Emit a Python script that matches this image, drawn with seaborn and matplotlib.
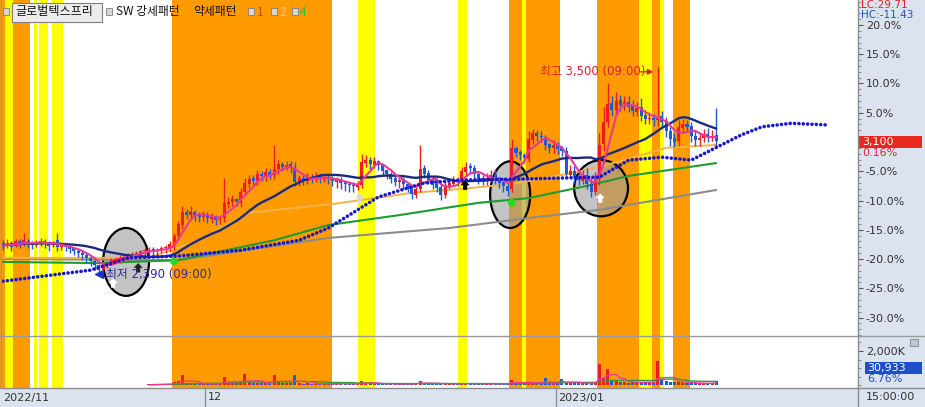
import numpy as np
import pandas as pd
import matplotlib
matplotlib.use("Agg")
import matplotlib.pyplot as plt
from matplotlib.patches import Ellipse, Rectangle
from matplotlib.lines import Line2D
from matplotlib.path import Path
from matplotlib.ticker import MultipleLocator
import seaborn as sns

# price in % against the 3,095 base line, volume in K shares
close = [
    -17.8, -17.2, -17.9, -17.0, -17.5, -16.8, -17.3, -17.6, -17.1, -16.9,
    -17.4, -17.7, -17.2, -17.9, -17.8, -18.0, -18.3, -18.6, -18.9, -19.3,
    -19.8, -20.4, -21.0, -21.8, -21.2, -20.6, -20.2, -20.0, -19.8, -19.6,
    -19.3, -19.1, -18.9, -18.7, -18.5, -18.4, -18.6, -18.5, -18.2, -18.0,
    -17.5, -16.0, -14.0, -12.0, -12.5, -11.8, -12.6, -12.8, -12.4, -13.0,
    -12.7, -13.3, -13.1, -10.5, -10.2, -9.8, -10.3, -8.5, -7.0, -6.3,
    -6.6, -5.5, -5.8, -5.2, -5.6, -4.6, -3.8, -4.2, -3.9, -4.5,
    -6.8, -6.2, -6.5, -6.0, -6.3, -5.9, -6.2, -6.0, -6.4, -6.7,
    -6.5, -7.0, -7.2, -7.4, -7.6, -7.3, -3.5, -3.0, -3.8, -3.3,
    -4.0, -4.9, -5.5, -6.3, -6.8, -6.5, -7.2, -7.8, -8.9, -8.0,
    -4.6, -5.4, -6.5, -7.3, -7.8, -9.0, -7.4, -7.0, -6.5, -6.8,
    -5.0, -4.2, -4.5, -5.5, -6.3, -6.6, -6.2, -5.6, -6.5, -7.0,
    -7.6, -8.3, -1.0, -1.8, -2.3, -2.8, 0.5, 1.5, 1.0, 0.8,
    -0.5, -1.0, -0.5, -1.2, -1.5, -5.5, -5.0, -6.0, -6.5, -5.8,
    -7.2, -8.5, -6.3, -0.5, 3.5, 6.5, 5.5, 7.0, 6.3, 6.8,
    6.0, 5.3, 5.8, 4.5, 4.0, 4.0, 3.8, 4.3, 3.5, 1.8,
    0.5, 0.0, 2.5, 3.0, 2.6, 1.0, 0.4, 0.6, 1.3, 0.9,
    1.1, 0.16,
]
open_ = [
    -17.3, -17.8, -17.3, -17.8, -17.0, -17.4, -16.9, -17.2, -17.6, -17.2,
    -16.9, -17.3, -17.6, -16.7, -17.9, -17.8, -18.0, -18.2, -18.6, -18.9,
    -19.3, -19.9, -20.4, -21.0, -21.9, -21.2, -20.6, -20.3, -20.0, -19.9,
    -19.6, -19.4, -19.1, -18.9, -18.7, -18.6, -18.3, -18.7, -18.5, -18.2,
    -18.1, -17.6, -16.1, -14.2, -12.0, -12.5, -11.9, -12.5, -12.9, -12.4,
    -13.1, -12.7, -13.4, -13.0, -10.6, -10.3, -9.7, -10.4, -8.6, -7.1,
    -6.2, -6.7, -5.4, -5.9, -5.1, -5.7, -4.7, -3.7, -4.3, -3.8,
    -4.4, -6.9, -6.1, -6.6, -5.9, -6.4, -5.8, -6.3, -6.0, -6.3,
    -6.8, -6.4, -6.9, -7.1, -7.3, -7.7, -7.4, -3.6, -3.0, -3.9,
    -3.2, -4.0, -4.8, -5.4, -6.2, -6.9, -6.4, -7.1, -7.7, -9.0,
    -8.1, -4.5, -5.3, -6.4, -7.2, -7.7, -9.1, -7.5, -7.1, -6.4,
    -6.9, -5.1, -4.1, -4.4, -5.4, -6.2, -6.7, -6.3, -5.5, -6.4,
    -6.9, -7.5, -8.0, -1.1, -1.7, -2.2, -2.9, 0.4, 1.6, 1.1,
    0.9, -0.4, -1.1, -0.4, -1.1, -1.6, -5.6, -4.9, -6.1, -6.6,
    -5.7, -7.1, -8.6, -6.4, -0.4, 3.4, 6.6, 5.4, 7.1, 6.2,
    6.9, 6.1, 5.2, 5.9, 4.6, 3.9, 4.1, 3.7, 4.4, 3.6,
    1.9, 0.6, 0.1, 2.4, 3.1, 2.7, 1.1, 0.3, 0.7, 1.4,
    0.8, 1.2,
]
high = [
    -16.8, -16.6, -17.0, -16.5, -16.6, -15.6, -16.5, -16.9, -16.8, -16.4,
    -16.5, -16.9, -16.9, -15.5, -17.5, -17.4, -17.7, -17.9, -18.3, -18.5,
    -19.0, -19.6, -20.0, -20.8, -20.9, -20.3, -19.9, -19.7, -19.4, -19.2,
    -19.0, -18.8, -18.6, -18.4, -18.1, -17.9, -18.0, -18.2, -17.8, -17.6,
    -17.0, -15.5, -13.5, -10.9, -11.5, -11.0, -11.6, -12.0, -11.8, -12.0,
    -12.2, -12.4, -12.6, -6.2, -9.4, -9.0, -9.5, -7.8, -6.2, -5.6,
    -5.7, -4.8, -5.0, -4.5, -4.7, -0.5, -3.1, -3.4, -3.2, -3.2,
    -3.5, -5.6, -5.6, -5.3, -5.4, -5.2, -5.3, -5.4, -5.5, -5.8,
    -5.9, -6.0, -6.5, -6.6, -6.8, -6.6, -2.0, -2.2, -2.6, -2.6,
    -3.1, -3.8, -4.6, -5.2, -5.8, -5.8, -5.9, -6.8, -7.4, -7.2,
    -0.5, -4.0, -4.8, -5.8, -6.6, -7.2, -6.6, -6.2, -5.8, -6.0,
    -4.2, -3.4, -3.6, -4.0, -5.1, -5.7, -5.3, -4.8, -4.7, -6.0,
    -6.5, -6.8, 0.5, -0.6, -1.4, -1.8, 1.8, 2.2, 2.0, 1.8,
    1.2, -0.2, 0.4, 0.0, -0.7, -0.9, -4.0, -4.1, -5.2, -4.8,
    -4.5, -6.2, -5.2, 1.5, 6.0, 10.0, 7.8, 8.5, 8.0, 7.8,
    7.8, 7.2, 6.8, 7.5, 5.4, 5.2, 4.8, 12.9, 5.3, 4.2,
    2.6, 1.5, 3.8, 4.0, 3.8, 3.4, 1.9, 1.5, 2.2, 2.4,
    2.0, 5.8,
]
low = [
    -18.5, -18.1, -18.6, -17.9, -18.2, -17.8, -18.1, -18.3, -18.0, -17.8,
    -18.1, -18.6, -18.0, -18.6, -18.5, -18.7, -18.9, -19.3, -19.7, -20.2,
    -20.6, -21.2, -21.8, -22.8, -22.1, -21.5, -21.1, -20.7, -20.6, -20.4,
    -20.1, -19.9, -19.8, -19.5, -19.3, -19.4, -19.5, -19.4, -19.0, -18.9,
    -18.8, -18.4, -16.6, -14.8, -13.2, -13.3, -13.5, -13.6, -13.5, -13.8,
    -13.8, -14.2, -14.0, -13.6, -11.2, -10.9, -11.0, -11.1, -9.1, -7.8,
    -7.3, -7.4, -6.6, -6.7, -6.4, -6.3, -5.4, -5.0, -4.8, -5.3,
    -7.5, -7.6, -7.3, -7.1, -7.0, -6.9, -7.0, -6.8, -7.2, -7.5,
    -7.9, -8.1, -8.4, -8.5, -8.6, -8.2, -7.9, -4.3, -4.6, -4.4,
    -4.8, -5.6, -6.4, -7.0, -7.6, -7.8, -8.0, -8.6, -9.7, -9.5,
    -8.6, -6.2, -7.2, -8.1, -8.5, -9.9, -9.5, -8.0, -7.4, -7.6,
    -7.2, -5.6, -5.3, -6.2, -7.1, -7.4, -7.3, -6.8, -7.2, -7.8,
    -8.5, -9.3, -8.6, -2.6, -3.0, -3.6, -3.5, -0.4, 0.2, 0.0,
    -1.3, -1.8, -1.8, -2.0, -2.4, -6.4, -6.2, -7.0, -7.4, -7.2,
    -8.0, -9.4, -9.0, -7.4, -1.6, 2.6, 4.4, 4.6, 5.3, 5.4,
    5.2, 4.4, 4.5, 3.6, 3.1, 3.0, 2.8, 2.8, 2.6, 0.9,
    -0.6, -0.9, -0.6, 1.6, 1.8, 0.0, -0.6, -0.6, 0.0, 0.0,
    0.2, -0.6,
]
volume = [
    15, 8, 10, 12, 6, 9, 14, 7, 10, 8,
    11, 9, 7, 13, 10, 8, 12, 9, 11, 14,
    10, 16, 12, 18, 15, 11, 13, 9, 12, 10,
    11, 8, 14, 10, 12, 40, 55, 35, 60, 45,
    70, 150, 210, 590, 120, 90, 80, 110, 70, 95,
    60, 85, 100, 470, 130, 110, 90, 160, 650, 180,
    120, 140, 100, 90, 110, 590, 160, 120, 130, 140,
    590, 110, 80, 90, 70, 85, 60, 75, 80, 65,
    90, 70, 85, 60, 70, 80, 260, 120, 90, 80,
    70, 85, 60, 70, 55, 65, 75, 80, 95, 70,
    230, 90, 80, 70, 85, 110, 75, 70, 60, 80,
    120, 95, 70, 60, 75, 80, 70, 65, 60, 80,
    90, 110, 280, 130, 120, 100, 180, 150, 110, 90,
    410, 120, 90, 110, 350, 180, 120, 100, 90, 110,
    130, 150, 120, 1240, 420, 940, 300, 250, 180, 160,
    140, 150, 120, 200, 160, 130, 140, 1410, 280, 220,
    180, 150, 200, 140, 120, 130, 100, 110, 90, 100,
    120, 260,
]

# pattern signal zones (bar ranges)
strong_bands = [(-0.8, 0.5), (2.5, 6.5), (40.5, 79.0), (121.3, 124.5),
                (125.4, 133.6), (142.4, 152.5), (155.6, 157.6), (160.7, 164.7)]
weak_bands = [(0.5, 2.5), (7.4, 8.2), (8.6, 10.8), (11.7, 14.4), (85.1, 89.2),
              (109.1, 111.3), (124.5, 125.4), (152.5, 155.6), (157.6, 158.5)]

ma_orange_x = [0, 35, 47, 59, 79, 86, 98, 110, 122, 138, 149, 159, 171]
ma_orange_y = [-19.8, -19.8, -16.8, -12.1, -10.6, -9.9, -8.7, -8.0, -7.2, -5.1, -3.1, -1.0, -0.5]
ma_green_x = [0, 23, 42, 65, 78, 95, 114, 126, 140, 150, 171]
ma_green_y = [-20.5, -20.7, -20.2, -16.8, -14.2, -12.5, -10.4, -9.6, -7.5, -5.8, -3.6]
ma_gray_x = [0, 42, 78, 107, 126, 143, 171]
ma_gray_y = [-20.0, -20.2, -16.4, -14.7, -13.0, -11.6, -8.2]
lead_x = [0, 21, 30, 42, 57, 71, 78, 90, 101, 110, 126, 143, 150, 158, 165, 177, 182, 189, 198]
lead_y = [-23.8, -21.9, -19.8, -19.5, -18.5, -16.8, -14.7, -9.4, -7.0, -6.5, -6.3, -6.0,
          -3.1, -2.6, -3.1, 1.2, 2.6, 3.2, 2.9]

signal_x = [41, 122]
signal_y = [-20.4, -10.4]
arrow_x = [26.4, 143.2, 32.4, 110.8, 85.6]
arrow_y = [-24.1, -9.6, -21.5, -7.4, -9.6]
arrow_c = ["white", "white", "#222222", "black", "#d8d8d8"]

month_start = [0, 49, 133]
month_label = ["2022/11", "12", "2023/01"]
y_ticks = [-30, -25, -20, -15, -10, -5, 0, 5, 10, 15, 20]

N = len(close)
assert len(open_) == N and len(high) == N and len(low) == N and len(volume) == N

W, H = 925, 407
RED = "#ec1c24"
BLUE = "#1f5ad2"
ORANGE = "#ff9a00"
YELLOW = "#ffff00"
PANEL = "#dbe3ee"

sns.set_style("white")
plt.rcParams["font.family"] = ["DejaVu Sans", "Noto Sans CJK KR"]

fig = plt.figure(figsize=(W / 100, H / 100), dpi=100)


def box(x0, y0, x1, y1):
    return [x0 / W, 1 - y1 / H, (x1 - x0) / W, (y1 - y0) / H]


def ptext(x, y, s, **kw):
    kw.setdefault("va", "center")
    fig.text(x / W, 1 - y / H, s, **kw)


def prect(x0, y0, x1, y1, **kw):
    fig.add_artist(Rectangle((x0 / W, 1 - y1 / H), (x1 - x0) / W, (y1 - y0) / H,
                             transform=fig.transFigure, **kw))


def pline(xs, ys, **kw):
    fig.add_artist(Line2D([x / W for x in xs], [1 - y / H for y in ys],
                          transform=fig.transFigure, **kw))


side = fig.add_axes(box(858, 0, 925, 407))
date_ax = fig.add_axes(box(0, 388, 858, 407))
for a in (side, date_ax):
    a.set_facecolor(PANEL)
    a.set_xticks([])
    a.set_yticks([])
    for s in a.spines.values():
        s.set_visible(False)

ax = fig.add_axes(box(0, 0, 858, 336))
axv = fig.add_axes(box(0, 336, 858, 388))

x = np.arange(N)
o = np.array(open_)
c = np.array(close)
up = c >= o
colors = np.where(up, RED, BLUE)

for a in (ax, axv):
    a.set_xlim(-0.72, 205.0)
    for s in a.spines.values():
        s.set_visible(False)
    for s, e in strong_bands:
        a.axvspan(s, e, color=ORANGE, lw=0, zorder=0)
    for s, e in weak_bands:
        a.axvspan(s, e, color=YELLOW, lw=0, zorder=0)
    a.set_xticks([])

# ---------------- price panel ----------------
ax.set_ylim(-33.16, 24.27)

ellipses = [((29.5, -20.5), 11.0, 11.6), ((121.6, -9.0), 9.6, 11.4), ((143.4, -7.9), 12.9, 9.6)]
for (cx, cy), w, h in ellipses:
    ax.add_patch(Ellipse((cx, cy), w, h, fc=(0.62, 0.62, 0.62, 0.62), ec="black", lw=1.6, zorder=1.5))

sns.lineplot(x=ma_gray_x, y=ma_gray_y, ax=ax, color="#8c8c8c", lw=1.5, zorder=2)
sns.lineplot(x=ma_green_x, y=ma_green_y, ax=ax, color="#1e9b32", lw=1.5, zorder=2)
sns.lineplot(x=ma_orange_x, y=ma_orange_y, ax=ax, color="#f3b447", lw=1.4, zorder=2)

body = c - o
body = np.where(np.abs(body) < 0.15, 0.15, body)
ax.vlines(x, low, high, colors=colors, lw=1, zorder=3)
ax.bar(x, body, bottom=o, width=0.72, color=colors, lw=0, zorder=3)

ma5 = pd.Series(close).rolling(5, min_periods=1).mean()
ma20 = pd.Series(close).rolling(20, min_periods=1).mean()
sns.lineplot(x=x, y=ma20.values, ax=ax, color="#1c2a7c", lw=1.7, zorder=4)
sns.lineplot(x=x, y=ma5.values, ax=ax, color="#e8389a", lw=1.5, zorder=4)

ax.plot(lead_x, lead_y, color="#1717d0", lw=2.6, linestyle=(0, (0.01, 1.2)),
        dash_capstyle="round", zorder=5)

sns.scatterplot(x=signal_x, y=signal_y, ax=ax, color="#22dd22", s=30, edgecolor="none", zorder=6)
arrow_path = Path([(0, 1), (-1, 0), (-0.45, 0), (-0.45, -1), (0.45, -1), (0.45, 0), (1, 0), (0, 1)])
ax.scatter(arrow_x, arrow_y, marker=arrow_path, s=45, c=arrow_c, edgecolors="none", zorder=6)

# high / low labels
ax.text(128.8, 12.0, "최고 3,500 (09:00)", color="#e0202c", fontsize=8.5, va="center", zorder=7)
ax.annotate("", xy=(156.6, 12.0), xytext=(152.2, 12.0),
            arrowprops=dict(arrowstyle="-|>", color="#e0202c", lw=1, mutation_scale=8), zorder=7)
ax.scatter([22.9], [-22.6], marker="<", s=30, color="#1a2ed0", zorder=7)
ax.text(24.6, -22.7, "최저 2,390 (09:00)", color="#2b2b9a", fontsize=8.5, va="center", zorder=7)

ax.yaxis.tick_right()
ax.set_yticks(y_ticks)
ax.set_yticklabels(["" if v == 0 else f"{v:.1f}%" for v in y_ticks])
ax.yaxis.set_minor_locator(MultipleLocator(1))
ax.tick_params(axis="y", which="major", direction="out", length=3.5, width=0.8,
               color="#555555", pad=2, labelsize=8, labelcolor="#333333")
ax.tick_params(axis="y", which="minor", direction="out", length=1.8, width=0.6, color="#777777")
ax.set_ylabel("")

# ---------------- volume panel ----------------
axv.set_ylim(-176, 2882)
vol_ma5 = pd.Series(volume).rolling(5, min_periods=1).mean()
vol_ma20 = pd.Series(volume).rolling(20, min_periods=1).mean()
axv.bar(x, volume, width=0.72, color=colors, lw=0, zorder=2)
sns.lineplot(x=x[35:], y=vol_ma20.values[35:], ax=axv, color="#2f9b3a", lw=1.0, zorder=3)
sns.lineplot(x=x[35:], y=vol_ma5.values[35:], ax=axv, color="#e8389a", lw=0.9, zorder=3)
axv.yaxis.tick_right()
axv.set_yticks([2000])
axv.set_yticklabels(["2,000K"])
axv.yaxis.set_minor_locator(MultipleLocator(500))
axv.tick_params(axis="y", which="major", direction="out", length=3.5, width=0.8,
                color="#555555", pad=2, labelsize=8, labelcolor="#333333")
axv.tick_params(axis="y", which="minor", direction="out", length=1.8, width=0.6, color="#777777")
axv.set_ylabel("")

# ---------------- date strip ----------------
date_ax.set_xlim(-0.72, 205.0)
date_ax.set_ylim(0, 1)
for m, lab in zip(month_start, month_label):
    if m > 0:
        date_ax.axvline(m - 0.5, color="#7f8a99", lw=0.9)
    date_ax.text(m - 0.5 + 0.6 if m > 0 else 0.0, 0.5, lab, fontsize=8, color="#333333", va="center")

# ---------------- frame lines ----------------
pline([0, 925], [336, 336], color="#9a9a9a", lw=1)
pline([0, 925], [388, 388], color="#8c8c8c", lw=1)
pline([858, 858], [0, 407], color="#8c8c8c", lw=1)
pline([0.5, 0.5], [0, 388], color="#9a9a9a", lw=1)

# ---------------- right panel labels ----------------
ptext(861, 5.5, "LC:29.71", color="#e0202c", fontsize=7.5)
ptext(861, 15, "HC:-11.43", color="#2050c0", fontsize=7.5)
prect(859, 135.5, 922, 147.5, color="#e8281e", lw=0)
ptext(862, 141.5, "3,100", color="white", fontsize=8)
ptext(862, 153, "0.16%", color="#e0202c", fontsize=8)
prect(865, 361.5, 922, 373.5, color="#1e4fc8", lw=0)
ptext(867, 367.5, "30,933", color="white", fontsize=8)
ptext(867, 379, "6.76%", color="#2050c0", fontsize=8)
ptext(866, 397.5, "15:00:00", color="#333333", fontsize=8)
prect(910, 339, 918, 346, fc="#bfc6d0", ec="#7a8490", lw=0.6)

# ---------------- legend row ----------------
LEG = ["Noto Sans CJK KR", "DejaVu Sans"]
for sx in (3, 106, 248, 271, 292):
    prect(sx, 8.5, sx + 6, 14.5, fc="#d6d6d6", ec="#7f7f7f", lw=0.6)
prect(11.5, 2.5, 101.5, 21.5, fc="#ececec", ec="#7f7f7f", lw=0.8)
ptext(15, 12, "글로벌텍스프리", fontsize=8.7, color="#111111", family=LEG)
ptext(116, 12, "SW 강세패턴", fontsize=8.5, color="#111111", family=LEG)
ptext(193, 12, "약세패턴", fontsize=8.5, color="#111111", family=LEG)
ptext(257, 12, "1", fontsize=8.5, color="#b05a00", family=LEG)
ptext(279, 12, "2", fontsize=8.5, color="#ffc48c", family=LEG)
ptext(300, 12, "4", fontsize=8.5, color="#33bb33", family=LEG)

fig.savefig("out.png", dpi=100, facecolor="white")
